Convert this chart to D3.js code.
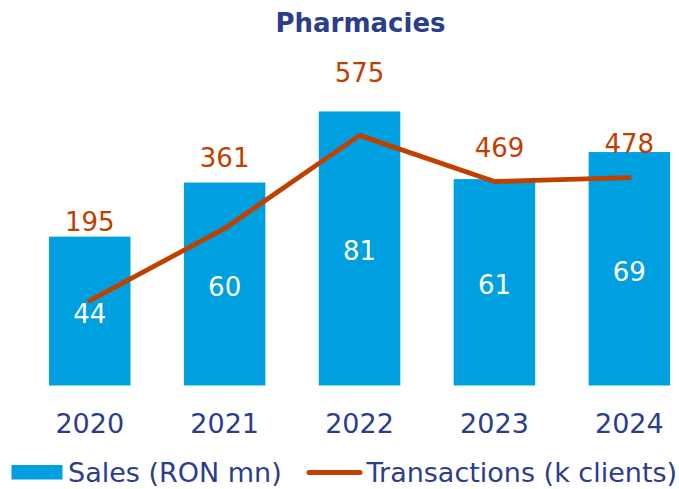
<!DOCTYPE html>
<html>
<head>
<meta charset="utf-8">
<script src="https://d3js.org/d3.v7.min.js"></script>
<style>
  body { margin: 0; background: #fff; }
  text { font-family: "DejaVu Sans", Verdana, sans-serif; }
</style>
</head>
<body>
<div id="chart"></div>
<script>
// chart data
const years = ["2020", "2021", "2022", "2023", "2024"];
const sales = [44, 60, 81, 61, 69];              // Sales (RON mn) - bars
const transactions = [195, 361, 575, 469, 478];  // Transactions (k clients) - line

// hand placed label offsets above bar top (as in the source slide)
const labelLift = [6, 16, 29, 22, -1];

const width = 679, height = 489;
const blue = "#009fdf", orange = "#c04000", navy = "#2b3d8c";

const svg = d3.select("#chart")
    .append("svg")
    .attr("width", width)
    .attr("height", height);

const x = d3.scaleBand()
    .domain(years)
    .range([22.3, 696.8])
    .paddingInner(0.396)
    .paddingOuter(0.198);

const yBar = d3.scaleLinear().domain([0, 90]).range([385.5, 81]);
const yLine = d3.scaleLinear().domain([0, 700]).range([385.5, 81]);

// title
svg.append("text")
    .attr("x", 360.5)
    .attr("y", 31.5)
    .attr("text-anchor", "middle")
    .style("font-size", "26px")
    .style("font-weight", "bold")
    .style("fill", navy)
    .text("Pharmacies");

// bars
svg.append("g")
    .selectAll("rect")
    .data(sales)
    .enter()
    .append("rect")
    .attr("x", (d, i) => x(years[i]))
    .attr("y", d => yBar(d))
    .attr("width", x.bandwidth())
    .attr("height", d => yBar(0) - yBar(d))
    .style("fill", blue);

// white values inside bars
svg.append("g")
    .selectAll("text")
    .data(sales)
    .enter()
    .append("text")
    .attr("x", (d, i) => x(years[i]) + x.bandwidth() / 2)
    .attr("y", d => (yBar(d) + yBar(0)) / 2 + 12)
    .attr("text-anchor", "middle")
    .style("font-size", "26px")
    .style("fill", "#fff")
    .text(d => d);

// transactions line
const line = d3.line()
    .x((d, i) => x(years[i]) + x.bandwidth() / 2)
    .y(d => yLine(d));

svg.append("path")
    .datum(transactions)
    .attr("d", line)
    .style("fill", "none")
    .style("stroke", orange)
    .style("stroke-width", 4.8)
    .style("stroke-linecap", "round")
    .style("stroke-linejoin", "round");

// transaction values above bars
svg.append("g")
    .selectAll("text")
    .data(transactions)
    .enter()
    .append("text")
    .attr("x", (d, i) => x(years[i]) + x.bandwidth() / 2 + (i === 3 ? 5 : 0))
    .attr("y", (d, i) => yBar(sales[i]) - labelLift[i])
    .attr("text-anchor", "middle")
    .style("font-size", "26px")
    .style("fill", orange)
    .text(d => d);

// x axis labels
const xAxis = svg.append("g")
    .attr("transform", "translate(0,385.5)")
    .call(d3.axisBottom(x).tickSize(0).tickPadding(0));
xAxis.select(".domain").remove();
xAxis.selectAll("text")
    .attr("y", 47)
    .attr("dy", null)
    .style("font-family", "'DejaVu Sans', Verdana, sans-serif")
    .style("font-size", "27px")
    .style("fill", navy);

// legend
const legend = svg.append("g");
legend.append("rect")
    .attr("x", 11.5).attr("y", 465)
    .attr("width", 51).attr("height", 14.5)
    .style("fill", blue);
legend.append("text")
    .attr("x", 68).attr("y", 481.5)
    .style("font-size", "27px")
    .style("fill", navy)
    .text("Sales (RON mn)");
legend.append("line")
    .attr("x1", 309).attr("x2", 360)
    .attr("y1", 472.5).attr("y2", 472.5)
    .style("stroke", orange)
    .style("stroke-width", 5)
    .style("stroke-linecap", "round");
legend.append("text")
    .attr("x", 366.5).attr("y", 481.5)
    .style("font-size", "27px")
    .style("fill", navy)
    .text("Transactions (k clients)");
</script>
</body>
</html>
